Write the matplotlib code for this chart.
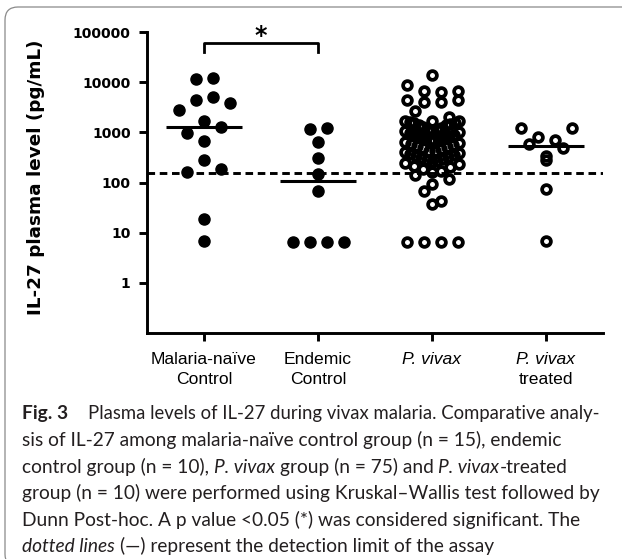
import numpy as np
import matplotlib.pyplot as plt
from matplotlib.patches import FancyBboxPatch
from matplotlib.transforms import IdentityTransform, blended_transform_factory

# --- Data: IL-27 plasma levels (pg/mL) ---
naive = [11900, 11560, 5130, 4420, 3800, 2790, 1680, 1300, 955, 680,
         281, 186, 164, 18.5, 6.8]
endemic = [1240, 1150, 641, 302, 145, 68.7, 6.6, 6.6, 6.6, 6.6]
vivax = [13900, 8700, 6760, 6760, 6500, 4420, 4420, 4080, 3980, 2690, 1990,
         1700, 1680, 1650, 1600, 1550, 1500, 1460, 1420, 1380,
         1250, 1200, 1160, 1120, 1080, 1040, 1000, 960,
         900, 870, 840, 810, 780, 750, 720, 700, 680,
         640, 620, 595, 570, 545, 520, 495, 470,
         430, 415, 400, 385, 370, 355, 340, 325, 315,
         300, 285, 270, 255, 240, 230,
         215, 200, 185, 170, 160,
         140, 120, 95,
         68, 43, 38, 6.6, 6.6, 6.6, 6.6]
treated = [1205, 1205, 797, 703, 580, 494, 342, 281, 73, 6.9]
detection_limit = 156

line1 = ['Malaria-naïve', 'Endemic', 'P. vivax', 'P. vivax']
line2 = ['Control', 'Control', '', 'treated']
label_italic = [False, False, True, True]

W, H = 622, 559
fig = plt.figure(figsize=(W / 100, H / 100), dpi=100)
ax = fig.add_axes([147 / W, 1 - 333 / H, (603 - 147) / W, (333 - 32) / H])
ax.set_yscale('log')
ax.set_ylim(0.1, 100000)
ax.set_xlim(-0.5, 3.5)

bb = ax.get_window_extent()
px_per_unit = bb.width / 4
px_per_decade = bb.height / 6


def scatter_offsets(vals, row_h, step=17, max_span=62, outer_first=False):
    # GraphPad-like column scatter: points grouped in rows, each row centred
    y = np.log10(vals) * px_per_decade
    order = np.argsort(-y, kind='stable')
    rows, row = [], [order[0]]
    for i in order[1:]:
        if y[row[0]] - y[i] <= row_h:
            row.append(i)
        else:
            rows.append(row)
            row = [i]
    rows.append(row)
    offs = np.zeros(len(vals))
    for row in rows:
        n = len(row)
        w = step if (n - 1) * step <= max_span else max_span / (n - 1)
        slots = (np.arange(n) - (n - 1) / 2) * w
        if outer_first:
            slot_order = sorted(range(n), key=lambda k: (-abs(slots[k]), slots[k]))
        else:
            slot_order = sorted(range(n), key=lambda k: (abs(slots[k]), -slots[k]))
        for i, k in zip(row, slot_order):
            offs[i] = slots[k]
    return offs / px_per_unit


ax.axhline(detection_limit, color='black', lw=2.1, dashes=(2.6, 1.6), zorder=1)

filled = dict(marker='o', ls='none', ms=8, color='black', zorder=3)
hollow = dict(marker='o', ls='none', ms=6.3, mew=2.7, mec='black', mfc='none', zorder=3)
groups = [(naive, filled, 14, 62, False), (endemic, filled, 14, 62, False),
          (vivax, hollow, 10, 54, True), (treated, hollow, 14, 62, True)]
for i, (vals, style, row_h, span, outer) in enumerate(groups):
    x = i + scatter_offsets(vals, row_h, max_span=span, outer_first=outer)
    ax.plot(x, vals, **style)
    if i != 2:
        ax.hlines(np.median(vals), i - 0.33, i + 0.33, color='black', lw=2.2, zorder=4)

# significance bracket
ax.plot([0, 0, 1, 1], [39400, 61200, 61200, 39400], color='black', lw=2, clip_on=False)
ax.text(0.5, 60000, '*', ha='center', va='baseline', fontsize=17,
        fontweight='bold', family='DejaVu Sans')

for s in ['top', 'right']:
    ax.spines[s].set_visible(False)
for s in ['left', 'bottom']:
    ax.spines[s].set_linewidth(2.1)
ax.set_yticks([1, 10, 100, 1000, 10000, 100000])
ax.set_yticklabels(['1', '10', '100', '1000', '10000', '100000'])
ax.yaxis.set_minor_locator(plt.NullLocator())
ax.tick_params(axis='y', length=5.8, width=2.1, pad=6, labelsize=10)
for t in ax.get_yticklabels():
    t.set_fontweight('bold')
    t.set_family('DejaVu Sans')
ax.set_xticks(range(4))
ax.set_xticklabels([])
ax.tick_params(axis='x', length=5.5, width=2.1)

tr = blended_transform_factory(ax.transData, fig.transFigure)
for i in range(4):
    st = 'italic' if label_italic[i] else 'normal'
    ax.text(i, 1 - 364 / H, line1[i], transform=tr, ha='center', va='baseline',
            fontsize=12.6, family='Liberation Sans', style=st)
    ax.text(i, 1 - 384 / H, line2[i], transform=tr, ha='center', va='baseline',
            fontsize=12.6, family='Liberation Sans')

fig.text(36 / W, 1 - 177 / H, 'IL-27 plasma level (pg/mL)', rotation=90,
         ha='center', va='center', fontsize=13.2, fontweight='bold', family='DejaVu Sans')

# --- caption ---
renderer = fig.canvas.get_renderer()
cap_font = 'Lato'


def width(txt, size, **kw):
    t = fig.text(0, 0, txt, fontsize=size, family=cap_font, **kw)
    w = t.get_window_extent(renderer).width
    t.remove()
    return w


ref_line = 'group (n = 10) were performed using Kruskal–Wallis test followed by'
first_line = 'Plasma levels of IL-27 during vivax malaria. Comparative analy-'
cap_size = 10 * 581 / width(ref_line, 10)
first_size = min(cap_size, 10 * 511 / width(first_line, 10))
space = width('n n', cap_size) - width('nn', cap_size)

caption = [
    [('Fig. 3', 'normal', 'bold'), ('  ' + first_line, 'normal', 'normal')],
    [('sis of IL-27 among malaria-naïve control group (n = 15), endemic', 'normal', 'normal')],
    [('control group (n = 10),', 'normal', 'normal'), (' ', None, None), ('P. vivax', 'italic', 'normal'),
     (' ', None, None), ('group (n = 75) and', 'normal', 'normal'), (' ', None, None),
     ('P. vivax', 'italic', 'normal'), ('-treated', 'normal', 'normal')],
    [(ref_line, 'normal', 'normal')],
    [('Dunn Post-hoc. A p value <0.05 (*) was considered significant. The', 'normal', 'normal')],
    [('dotted lines', 'italic', 'normal'), (' ', None, None),
     ('(—) represent the detection limit of the assay', 'normal', 'normal')],
]
baselines = [419, 446, 473, 499, 526, 552]
for segs, base in zip(caption, baselines):
    x = 22
    for txt, st, wt in segs:
        if st is None:
            x += space
            continue
        size = cap_size
        if txt.startswith('  '):
            x = 88
            txt = txt.strip()
            size = first_size
        t = fig.text(x / W, 1 - base / H, txt, fontsize=size, family=cap_font,
                     style=st, weight=wt, va='baseline', color='#231f20')
        x += t.get_window_extent(renderer).width

# rounded frame around the figure panel
frame = FancyBboxPatch((5, -8), 700, H - 7 + 8, boxstyle='round,pad=0,rounding_size=13',
                       transform=IdentityTransform(), fill=False, ec='#8a8a8a', lw=0.9)
fig.patches.append(frame)

fig.savefig('out.png', dpi=100)
